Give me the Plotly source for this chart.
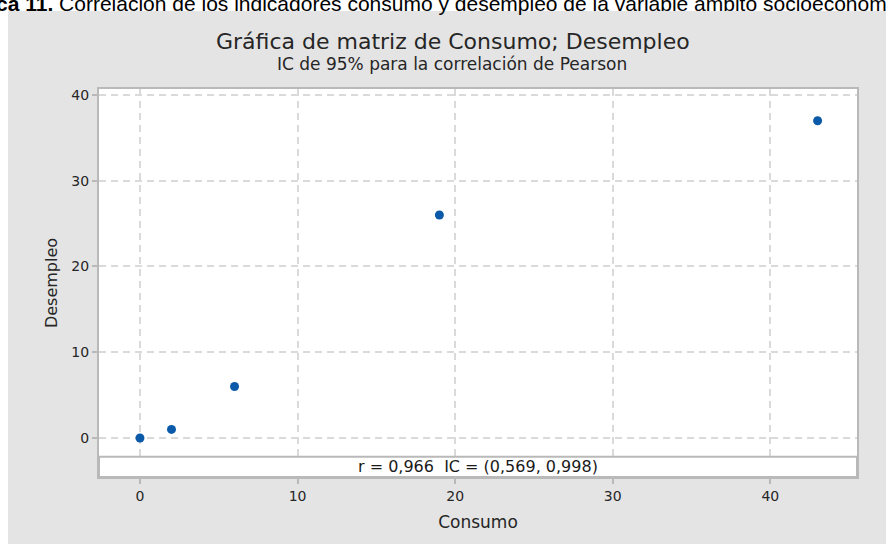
import plotly.graph_objects as go

# datos
consumo = [0, 2, 6, 19, 43]
desempleo = [0, 1, 6, 26, 37]
ticks_x = [0, 10, 20, 30, 40]
ticks_y = [0, 10, 20, 30, 40]
texto_r = "r = 0,966  IC = (0,569, 0,998)"

W, H = 886, 544
L, R, T, B = 99, 29, 89, 67
pw, ph = W - L - R, H - T - B


def px_x(p):
    return (p - L) / pw


def px_y(p):
    return (H - B - p) / ph


fuente = "DejaVu Sans, Open Sans, sans-serif"
gris_borde = "#b9b9b9"
gris_texto = "#262626"

fig = go.Figure()

fig.add_trace(go.Scatter(
    x=consumo, y=desempleo, mode="markers",
    marker=dict(color="#0b5aa9", size=9),
    showlegend=False, hoverinfo="x+y",
))

ejes = dict(
    ticks="outside", ticklen=5, tickcolor=gris_borde, tickwidth=1.5,
    showline=True, linecolor=gris_borde, linewidth=2, mirror=True,
    showgrid=True, gridcolor="#dadada", griddash="7px,5px", gridwidth=1.5,
    zeroline=False, tickfont=dict(size=14, color=gris_texto),
)
fig.update_xaxes(range=[-2.6, 45.5], tickvals=ticks_x, **ejes,
                 title=dict(text="Consumo", font=dict(size=17, color=gris_texto), standoff=13))
fig.update_yaxes(range=[-4.55, 40.7], tickvals=ticks_y, **ejes,
                 title=dict(text="Desempleo", font=dict(size=16, color=gris_texto), standoff=10))

# franja de la correlacion
fig.add_shape(type="rect", xref="paper", yref="y", x0=0, x1=1, y0=-4.55, y1=-2.2,
              fillcolor="white", line=dict(color=gris_borde, width=2), layer="above")
fig.add_annotation(x=0.5, y=-3.35, xref="paper", yref="y", text=texto_r, showarrow=False,
                   font=dict(size=16, color="#1a1a1a"))

# borde blanco del documento alrededor del panel gris
fig.add_shape(type="rect", xref="paper", yref="paper", x0=px_x(-20), x1=px_x(W + 20),
              y0=px_y(11), y1=px_y(-20), fillcolor="white", line_width=0, layer="below")
fig.add_shape(type="rect", xref="paper", yref="paper", x0=px_x(-20), x1=px_x(8),
              y0=px_y(H + 20), y1=px_y(-20), fillcolor="white", line_width=0, layer="below")

fig.add_annotation(x=px_x(453), y=px_y(41), xref="paper", yref="paper",
                   xanchor="center", yanchor="middle",
                   text="Gráfica de matriz de Consumo; Desempleo", showarrow=False,
                   font=dict(size=22, color=gris_texto))
fig.add_annotation(x=px_x(452), y=px_y(64), xref="paper", yref="paper",
                   xanchor="center", yanchor="middle",
                   text="IC de 95% para la correlación de Pearson", showarrow=False,
                   font=dict(size=17, color=gris_texto))

# pie de figura, cortado por arriba como en el documento
fig.add_annotation(x=px_x(-55), y=px_y(17), xref="paper", yref="paper", xanchor="left", yanchor="bottom",
                   text="<b>Gráfica 11.</b> Correlación de los indicadores consumo y desempleo de la variable ámbito socioeconómico",
                   showarrow=False, font=dict(size=21, color="black", family="Liberation Sans, Arial"))

fig.update_layout(
    width=W, height=H, margin=dict(l=L, r=R, t=T, b=B),
    paper_bgcolor="#e4e4e4", plot_bgcolor="white",
    font=dict(family=fuente, color=gris_texto),
)

fig.write_html("out.html", config={"displayModeBar": False},
               post_script="document.body.style.margin='0';")
